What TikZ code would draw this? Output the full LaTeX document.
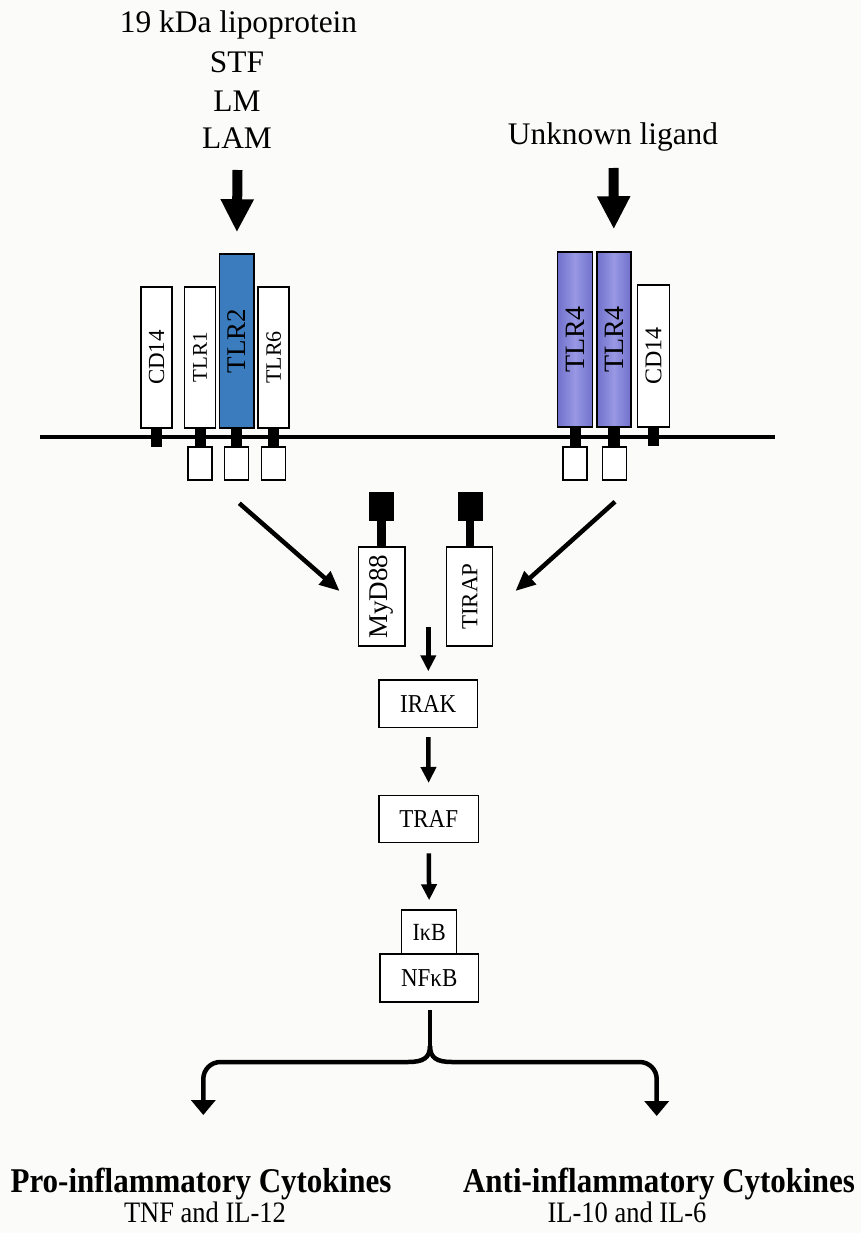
\documentclass[tikz,border=0pt]{standalone}
\usepackage{fontspec}
\setmainfont{Liberation Serif}
\usepackage{graphicx}
\usetikzlibrary{arrows.meta,calc}
\definecolor{paper}{RGB}{251,251,249}
\definecolor{tlrtwo}{RGB}{58,124,190}
\definecolor{tlrfourdark}{RGB}{112,112,204}
\definecolor{tlrfourlight}{RGB}{152,152,228}
\newcommand\fsz[1]{\fontsize{#1}{#1}\selectfont}
\newcommand\tall[1]{\scalebox{1}[1.12]{#1}}
\begin{document}
\begin{tikzpicture}[x=1pt,y=-1pt,
  box/.style={draw,line width=1.5pt,inner sep=0pt,fill=white},
  rbox/.style={box,minimum width=31pt,minimum height=141pt},
  foot/.style={box,minimum width=24pt,minimum height=33pt},
  ligarrow/.style={line width=10pt,-{Triangle[length=33pt,width=31pt]}},
  diagarrow/.style={line width=4.5pt,-{Triangle[length=20pt,width=17pt]}},
  steparrow/.style={line width=4.5pt,-{Triangle[length=16pt,width=15pt]}},
  forkarrow/.style={line width=4.5pt,-{Triangle[length=15pt,width=24pt]}},
  lbl/.style={anchor=base,inner sep=0pt}]
\useasboundingbox (0,0) rectangle (861,1233);
\fill[paper] (0,0) rectangle (861,1233);

% ligand labels
\node[lbl] (lipo) at (238.5,33) {\fsz{31.4}19 kDa lipoprotein};
\node[lbl] (stf) at (237,73) {\fsz{31.4}STF};
\node[lbl] (lm) at (237,112) {\fsz{31.4}LM};
\node[lbl] (lam) at (237,149) {\fsz{31.4}LAM};
\node[lbl] (unk) at (613,145) {\fsz{31.4}Unknown ligand};

% membrane
\coordinate (memL) at (40,437);
\coordinate (memR) at (775,437);
\draw[line width=4.5pt] (memL) -- (memR);

% receptors above the membrane
\node[rbox] (cdl) at (156.5,357.5) {\rotatebox{90}{\fsz{23}CD14}};
\node[rbox] (tlra) at (200,357.5) {\rotatebox{90}{\fsz{21}TLR1}};
\node[rbox,fill=tlrtwo,minimum width=34.7pt,minimum height=174pt] (tlrb) at (236.7,341) {\rotatebox{90}{\fsz{27}TLR2}};
\node[rbox] (tlrf) at (273.7,357.5) {\rotatebox{90}{\fsz{22}TLR6}};
\node[rbox,left color=tlrfourdark,right color=tlrfourdark,middle color=tlrfourlight,minimum width=35.4pt,minimum height=175pt] (tlrp) at (575,339.5) {\rotatebox{90}{\fsz{28}TLR4}};
\node[rbox,left color=tlrfourdark,right color=tlrfourdark,middle color=tlrfourlight,minimum width=34.3pt,minimum height=175pt] (tlrq) at (613.9,339.5) {\rotatebox{90}{\fsz{28}TLR4}};
\node[rbox,minimum width=31.6pt,minimum height=142pt] (cdr) at (653.5,356) {\rotatebox{90}{\fsz{24}CD14}};

% cytoplasmic domains
\node[foot] (fa) at (200,463.5) {};
\node[foot] (fb) at (236.5,463.5) {};
\node[foot] (ff) at (273.5,463.5) {};
\node[foot] (fp) at (575,463.5) {};
\node[foot] (fq) at (614.4,463.5) {};

% transmembrane stems
\foreach \r/\f in {tlra/fa,tlrb/fb,tlrf/ff,tlrp/fp,tlrq/fq}{
  \fill ($(\r.south)+(-5.5,0)$) rectangle ($(\f.north)+(5.5,0)$);
}
\fill ($(cdl.south)+(-5.5,0)$) rectangle ($(cdl.south)+(5.5,18)$);
\fill ($(cdr.south)+(-5.5,0)$) rectangle ($(cdr.south)+(5.5,18)$);

% ligand arrows
\coordinate (ligA) at (237.5,170);
\coordinate (ligB) at (613.5,168);
\draw[ligarrow,shorten >=21pt] (ligA) -- (tlrb.north);
\draw[ligarrow,shorten >=22pt] (ligB) -- (tlrq.north);

% adaptors
\node[box,minimum width=46.7pt,minimum height=99pt] (myd) at (381.7,596.5) {\rotatebox{90}{\fsz{27}MyD88}};
\node[box,minimum width=46pt,minimum height=99pt] (tirap) at (469.7,596.5) {\rotatebox{90}{\fsz{23}TIRAP}};
\node[fill=black,inner sep=0pt,minimum width=24.7pt,minimum height=29pt] (mydhead) at (381.7,506.5) {};
\node[fill=black,inner sep=0pt,minimum width=24.4pt,minimum height=29pt] (tiraphead) at (470.5,506.5) {};
\fill ($(mydhead.south)+(-4.7,0)$) rectangle ($(myd.north)+(4.7,0)$);
\fill ($(tiraphead.south)+(-4.7,0)$) rectangle ($(tirap.north)+(4.7,0)$);

% arrows from receptors to adaptors
\coordinate (dA) at (239.3,503.3);
\coordinate (dB) at (615,501.7);
\draw[diagarrow] (dA) -- ($(myd.west)+(-18,-5.5)$);
\draw[diagarrow] (dB) -- ($(tirap.east)+(22,-5.5)$);

% signalling cascade
\node[box,minimum width=98.3pt,minimum height=47.3pt] (irak) at (428.2,703.7) {\tall{\fsz{23}IRAK}};
\node[box,minimum width=99.3pt,minimum height=47pt] (traf) at (428.7,819.2) {\tall{\fsz{23}TRAF}};
\node[box,minimum width=98.3pt,minimum height=48pt] (nfkb) at (429.2,978) {\tall{\fsz{23}NFκB}};
\node[box,minimum width=55pt,minimum height=44pt] (ikb) at (429.2,932) {\tall{\fsz{22}IκB}};

\coordinate (adap) at (428.3,627);
\draw[steparrow,shorten >=8pt] (adap) -- (adap |- irak.north);
\draw[steparrow,shorten <=9pt,shorten >=12pt] (irak.south) -- (traf.north);
\draw[steparrow,shorten <=10pt,shorten >=9pt] (traf.south) -- (ikb.north);

% branching to cytokines
\coordinate (fork) at (430,1046);
\coordinate (protip) at (203.3,1115);
\coordinate (antitip) at (656.7,1116);
\draw[line width=4.5pt] ($(nfkb.south)+(0.8,7)$) -- (fork);
\draw[forkarrow] (fork) .. controls (430,1058) and (423,1062) .. (408,1062)
  {[rounded corners=17pt] -- (protip |- 0,1062) -- (protip)};
\draw[forkarrow] (fork) .. controls (430,1058) and (437,1062) .. (452,1062)
  {[rounded corners=17pt] -- (antitip |- 0,1062) -- (antitip)};

% outputs
\node[lbl] (pro) at (201,1192) {\tall{\fsz{31}\bfseries Pro-inflammatory Cytokines}};
\node[lbl] (prosub) at (205,1222) {\tall{\fsz{26.5}TNF and IL-12}};
\node[lbl] (anti) at (659,1192) {\tall{\fsz{31}\bfseries Anti-inflammatory Cytokines}};
\node[lbl] (antisub) at (627,1222) {\tall{\fsz{26.5}IL-10 and IL-6}};
\end{tikzpicture}
\end{document}
